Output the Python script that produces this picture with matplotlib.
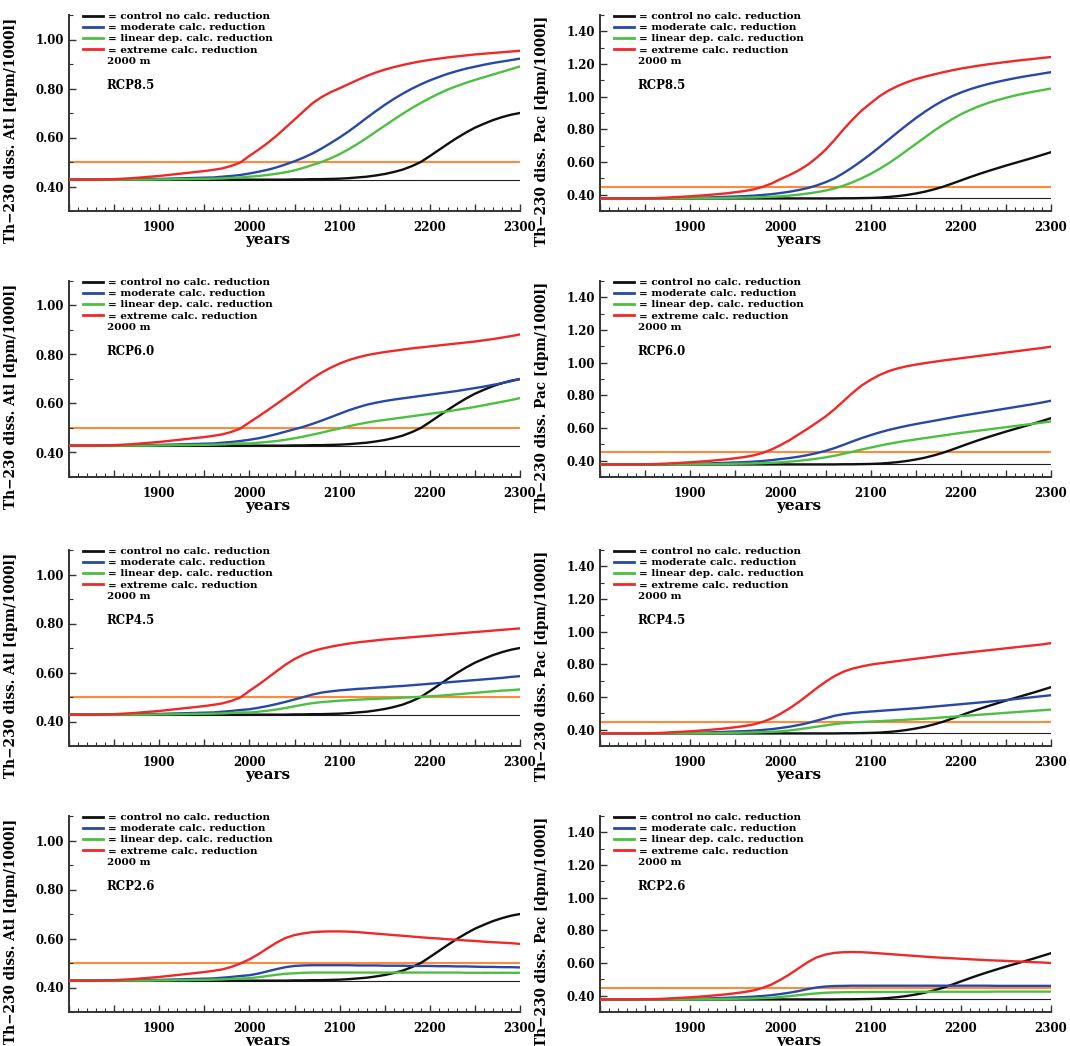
import matplotlib
matplotlib.use("Agg")
import matplotlib.pyplot as plt
from matplotlib.lines import Line2D
from matplotlib.ticker import MultipleLocator, FixedLocator, FuncFormatter

# ---------------- data ----------------
YEARS = list(range(1800, 2301, 10))

ATL_BASE = 0.428
ATL_THRESHOLD = 0.50
PAC_BASE = 0.377
PAC_THRESHOLD = 0.45

ATL_CONTROL = [0.428, 0.428, 0.428, 0.428, 0.428, 0.428, 0.428, 0.428, 0.428, 0.428,
               0.428, 0.428, 0.428, 0.428, 0.428, 0.428, 0.428, 0.428, 0.428, 0.428,
               0.428, 0.428, 0.428, 0.428, 0.428,
               0.429, 0.429, 0.430, 0.430, 0.431, 0.432, 0.434, 0.437, 0.440, 0.445,
               0.451, 0.459, 0.469, 0.483, 0.500, 0.524, 0.549, 0.574, 0.598, 0.620,
               0.640, 0.656, 0.671, 0.683, 0.693, 0.700]
PAC_CONTROL = [0.377, 0.377, 0.377, 0.377, 0.377, 0.377, 0.377, 0.377, 0.377, 0.377,
               0.377, 0.377, 0.377, 0.377, 0.377, 0.377, 0.377, 0.377, 0.377, 0.377,
               0.377, 0.377, 0.377, 0.377, 0.377, 0.377, 0.377,
               0.378, 0.378, 0.379, 0.380, 0.382, 0.386, 0.391, 0.398, 0.407, 0.418,
               0.432, 0.448, 0.467, 0.487, 0.507, 0.526, 0.544, 0.561, 0.578, 0.594,
               0.610, 0.626, 0.643, 0.660]

# 1800-1990 (shared by all scenarios)
ATL_RED_PRE = [0.428, 0.428, 0.428, 0.428, 0.429, 0.430, 0.432, 0.434, 0.437, 0.440,
               0.443, 0.447, 0.451, 0.455, 0.459, 0.463, 0.468, 0.474, 0.484, 0.498]
ATL_BLUE_PRE = [0.428, 0.428, 0.428, 0.428, 0.428, 0.429, 0.429, 0.430, 0.430, 0.431,
                0.431, 0.432, 0.433, 0.434, 0.435, 0.436, 0.437, 0.440, 0.443, 0.447]
ATL_GREEN_PRE = [0.428, 0.428, 0.428, 0.428, 0.428, 0.428, 0.428, 0.428, 0.428, 0.428,
                 0.429, 0.429, 0.430, 0.430, 0.431, 0.431, 0.432, 0.433, 0.435, 0.437]
PAC_RED_PRE = [0.377, 0.377, 0.377, 0.377, 0.377, 0.378, 0.379, 0.381, 0.384, 0.387,
               0.390, 0.394, 0.398, 0.403, 0.408, 0.415, 0.422, 0.432, 0.447, 0.468]
PAC_BLUE_PRE = [0.377, 0.377, 0.377, 0.377, 0.377, 0.377, 0.377, 0.378, 0.379, 0.380,
                0.381, 0.382, 0.383, 0.385, 0.387, 0.389, 0.391, 0.394, 0.398, 0.403]
PAC_GREEN_PRE = [0.377, 0.377, 0.377, 0.377, 0.377, 0.377, 0.377, 0.377, 0.377, 0.377,
                 0.378, 0.378, 0.379, 0.379, 0.380, 0.381, 0.382, 0.383, 0.385, 0.387]

# 2000-2300 per scenario
ATL85_RED = [0.525, 0.550, 0.577, 0.607, 0.640, 0.673, 0.707, 0.740, 0.765, 0.785,
             0.801, 0.818, 0.835, 0.851, 0.865, 0.877, 0.887, 0.896, 0.904, 0.911,
             0.917, 0.922, 0.927, 0.931, 0.935, 0.939, 0.942, 0.945, 0.948, 0.951, 0.954]
ATL85_BLUE = [0.453, 0.460, 0.468, 0.478, 0.490, 0.503, 0.518, 0.535, 0.555, 0.577,
              0.600, 0.625, 0.652, 0.680, 0.707, 0.733, 0.757, 0.779, 0.799, 0.817,
              0.833, 0.847, 0.860, 0.871, 0.881, 0.889, 0.897, 0.904, 0.910, 0.916, 0.922]
ATL85_GREEN = [0.440, 0.443, 0.447, 0.452, 0.458, 0.466, 0.476, 0.488, 0.500, 0.515,
               0.532, 0.552, 0.574, 0.598, 0.623, 0.648, 0.673, 0.697, 0.720, 0.741,
               0.761, 0.779, 0.796, 0.810, 0.823, 0.835, 0.846, 0.857, 0.868, 0.879, 0.890]

ATL60_RED = [0.523, 0.547, 0.572, 0.598, 0.624, 0.650, 0.677, 0.703, 0.726, 0.746,
             0.763, 0.777, 0.788, 0.797, 0.804, 0.810, 0.815, 0.820, 0.825, 0.829,
             0.833, 0.837, 0.841, 0.845, 0.849, 0.853, 0.858, 0.863, 0.869, 0.875, 0.882]
ATL60_BLUE = [0.452, 0.458, 0.466, 0.475, 0.485, 0.495, 0.505, 0.517, 0.530, 0.544,
              0.558, 0.572, 0.584, 0.595, 0.603, 0.610, 0.616, 0.621, 0.626, 0.631,
              0.636, 0.641, 0.646, 0.651, 0.657, 0.663, 0.669, 0.676, 0.683, 0.691, 0.700]
ATL60_GREEN = [0.437, 0.440, 0.443, 0.447, 0.452, 0.458, 0.465, 0.473, 0.481, 0.490,
               0.498, 0.507, 0.515, 0.522, 0.528, 0.533, 0.538, 0.543, 0.548, 0.553,
               0.558, 0.563, 0.568, 0.574, 0.580, 0.586, 0.593, 0.600, 0.607, 0.614, 0.622]

ATL45_RED = [0.525, 0.550, 0.577, 0.605, 0.632, 0.655, 0.673, 0.687, 0.697, 0.705,
             0.712, 0.718, 0.723, 0.727, 0.731, 0.735, 0.738, 0.741, 0.744, 0.747,
             0.750, 0.753, 0.756, 0.759, 0.762, 0.765, 0.768, 0.771, 0.774, 0.777, 0.780]
ATL45_BLUE = [0.450, 0.456, 0.463, 0.471, 0.480, 0.490, 0.500, 0.510, 0.518, 0.523,
              0.527, 0.530, 0.533, 0.535, 0.538, 0.540, 0.543, 0.545, 0.548, 0.551,
              0.554, 0.557, 0.560, 0.563, 0.566, 0.569, 0.572, 0.575, 0.578, 0.582, 0.585]
ATL45_GREEN = [0.437, 0.440, 0.444, 0.449, 0.455, 0.462, 0.469, 0.475, 0.479, 0.482,
               0.485, 0.487, 0.489, 0.491, 0.492, 0.494, 0.495, 0.497, 0.499, 0.501,
               0.503, 0.505, 0.508, 0.511, 0.514, 0.517, 0.520, 0.523, 0.526, 0.528, 0.531]

ATL26_RED = [0.515, 0.536, 0.560, 0.583, 0.602, 0.614, 0.621, 0.626, 0.628, 0.629,
             0.629, 0.628, 0.626, 0.623, 0.620, 0.617, 0.614, 0.611, 0.608, 0.605,
             0.602, 0.600, 0.597, 0.595, 0.592, 0.590, 0.587, 0.585, 0.583, 0.581, 0.578]
ATL26_BLUE = [0.450, 0.457, 0.466, 0.475, 0.483, 0.488, 0.490, 0.491, 0.491, 0.491,
              0.491, 0.491, 0.490, 0.490, 0.490, 0.489, 0.489, 0.489, 0.488, 0.488,
              0.488, 0.487, 0.487, 0.486, 0.486, 0.485, 0.484, 0.484, 0.483, 0.483, 0.482]
ATL26_GREEN = [0.438, 0.442, 0.447, 0.452, 0.456, 0.458, 0.460, 0.461, 0.461, 0.461,
               0.461, 0.461, 0.461, 0.461, 0.461, 0.461, 0.461, 0.461, 0.461, 0.461,
               0.461, 0.461, 0.461, 0.461, 0.460, 0.460, 0.460, 0.460, 0.460, 0.460, 0.460]

PAC85_RED = [0.495, 0.520, 0.548, 0.582, 0.625, 0.675, 0.735, 0.800, 0.860, 0.915,
             0.960, 1.003, 1.038, 1.065, 1.088, 1.107, 1.122, 1.136, 1.149, 1.161,
             1.172, 1.181, 1.190, 1.198, 1.205, 1.212, 1.219, 1.225, 1.231, 1.237, 1.243]
PAC85_BLUE = [0.410, 0.418, 0.428, 0.440, 0.456, 0.476, 0.500, 0.532, 0.568, 0.607,
              0.648, 0.692, 0.737, 0.782, 0.826, 0.868, 0.907, 0.943, 0.975, 1.002,
              1.025, 1.045, 1.062, 1.077, 1.090, 1.102, 1.113, 1.123, 1.132, 1.141, 1.150]
PAC85_GREEN = [0.390, 0.394, 0.400, 0.407, 0.415, 0.425, 0.438, 0.455, 0.476, 0.500,
               0.527, 0.558, 0.592, 0.630, 0.670, 0.710, 0.750, 0.790, 0.827, 0.861,
               0.892, 0.918, 0.941, 0.961, 0.978, 0.993, 1.007, 1.019, 1.030, 1.040, 1.050]

PAC60_RED = [0.495, 0.525, 0.560, 0.595, 0.632, 0.670, 0.715, 0.765, 0.815, 0.860,
             0.895, 0.925, 0.948, 0.965, 0.978, 0.988, 0.997, 1.005, 1.013, 1.020,
             1.027, 1.034, 1.041, 1.048, 1.055, 1.062, 1.069, 1.076, 1.083, 1.090, 1.098]
PAC60_BLUE = [0.410, 0.416, 0.424, 0.434, 0.446, 0.460, 0.477, 0.497, 0.518, 0.538,
              0.556, 0.573, 0.588, 0.601, 0.613, 0.624, 0.634, 0.644, 0.654, 0.664,
              0.674, 0.683, 0.692, 0.701, 0.710, 0.719, 0.728, 0.737, 0.746, 0.756, 0.767]
PAC60_GREEN = [0.390, 0.394, 0.399, 0.405, 0.412, 0.420, 0.430, 0.442, 0.455, 0.468,
               0.480, 0.492, 0.503, 0.513, 0.522, 0.530, 0.538, 0.546, 0.554, 0.562,
               0.570, 0.577, 0.584, 0.591, 0.598, 0.605, 0.612, 0.619, 0.626, 0.633, 0.640]

PAC45_RED = [0.497, 0.530, 0.568, 0.610, 0.653, 0.693, 0.728, 0.755, 0.774, 0.787,
             0.798, 0.806, 0.813, 0.820, 0.827, 0.834, 0.841, 0.848, 0.855, 0.862,
             0.868, 0.874, 0.880, 0.886, 0.892, 0.898, 0.904, 0.910, 0.916, 0.922, 0.930]
PAC45_BLUE = [0.410, 0.418, 0.428, 0.440, 0.455, 0.470, 0.485, 0.495, 0.502, 0.507,
              0.511, 0.515, 0.519, 0.523, 0.527, 0.531, 0.536, 0.541, 0.546, 0.551,
              0.556, 0.561, 0.566, 0.571, 0.576, 0.581, 0.587, 0.593, 0.599, 0.605, 0.611]
PAC45_GREEN = [0.390, 0.395, 0.402, 0.410, 0.418, 0.426, 0.434, 0.440, 0.444, 0.447,
               0.450, 0.452, 0.455, 0.458, 0.461, 0.464, 0.467, 0.471, 0.475, 0.479,
               0.483, 0.487, 0.491, 0.495, 0.499, 0.503, 0.507, 0.511, 0.515, 0.519, 0.523]

PAC26_RED = [0.497, 0.530, 0.567, 0.604, 0.634, 0.652, 0.662, 0.666, 0.667, 0.666,
             0.663, 0.659, 0.655, 0.651, 0.647, 0.643, 0.639, 0.635, 0.632, 0.629,
             0.626, 0.623, 0.620, 0.617, 0.615, 0.613, 0.610, 0.608, 0.605, 0.603, 0.600]
PAC26_BLUE = [0.410, 0.418, 0.428, 0.440, 0.450, 0.456, 0.459, 0.460, 0.461, 0.461,
              0.461, 0.461, 0.461, 0.461, 0.461, 0.461, 0.461, 0.461, 0.461, 0.461,
              0.461, 0.461, 0.461, 0.461, 0.460, 0.460, 0.460, 0.460, 0.460, 0.460, 0.460]
PAC26_GREEN = [0.392, 0.397, 0.403, 0.409, 0.414, 0.418, 0.420, 0.421, 0.422, 0.422,
               0.423, 0.423, 0.423, 0.423, 0.423, 0.424, 0.424, 0.424, 0.424, 0.424,
               0.424, 0.424, 0.424, 0.424, 0.425, 0.425, 0.425, 0.425, 0.425, 0.425, 0.425]

SCENARIOS = ["RCP8.5", "RCP6.0", "RCP4.5", "RCP2.6"]
ATL_POST = {"RCP8.5": (ATL85_BLUE, ATL85_GREEN, ATL85_RED),
            "RCP6.0": (ATL60_BLUE, ATL60_GREEN, ATL60_RED),
            "RCP4.5": (ATL45_BLUE, ATL45_GREEN, ATL45_RED),
            "RCP2.6": (ATL26_BLUE, ATL26_GREEN, ATL26_RED)}
PAC_POST = {"RCP8.5": (PAC85_BLUE, PAC85_GREEN, PAC85_RED),
            "RCP6.0": (PAC60_BLUE, PAC60_GREEN, PAC60_RED),
            "RCP4.5": (PAC45_BLUE, PAC45_GREEN, PAC45_RED),
            "RCP2.6": (PAC26_BLUE, PAC26_GREEN, PAC26_RED)}

LABELS = ["= control no calc. reduction", "= moderate calc. reduction",
          "= linear dep. calc. reduction", "= extreme calc. reduction"]
COLORS = ["#101010", "#2848a8", "#4cc040", "#f02828"]
ORANGE = "#ff8a3c"

# ---------------- drawing ----------------
FONT = "DejaVu Serif"
plt.rcParams["font.family"] = FONT
plt.rcParams["font.weight"] = "bold"

fig = plt.figure(figsize=(10.70, 10.46), dpi=100)
W, H = 1070.0, 1046.0
col_left = [69, 600]
col_width = 451
row_top = [15, 281, 550, 816]
row_h = 196


def fmt_y(v, pos):
    return "%.2f" % v


def fmt_x(v, pos):
    v = int(round(v))
    if v % 100 == 0 and v != 1800:
        return str(v)
    return ""


for r, scen in enumerate(SCENARIOS):
    for c, basin in enumerate(["Atl", "Pac"]):
        x0 = col_left[c] / W
        y0 = 1 - (row_top[r] + row_h) / H
        ax = fig.add_axes([x0, y0, col_width / W, row_h / H])

        if basin == "Atl":
            base, thr, control = ATL_BASE, ATL_THRESHOLD, ATL_CONTROL
            pres = (ATL_BLUE_PRE, ATL_GREEN_PRE, ATL_RED_PRE)
            posts = ATL_POST[scen]
            ylim = (0.30, 1.10)
            ymaj = [0.4, 0.6, 0.8, 1.0]
        else:
            base, thr, control = PAC_BASE, PAC_THRESHOLD, PAC_CONTROL
            pres = (PAC_BLUE_PRE, PAC_GREEN_PRE, PAC_RED_PRE)
            posts = PAC_POST[scen]
            ylim = (0.30, 1.50)
            ymaj = [0.4, 0.6, 0.8, 1.0, 1.2, 1.4]

        ax.axhline(base, color="#202020", lw=0.8, zorder=1)
        ax.axhline(thr, color=ORANGE, lw=1.5, zorder=1)

        ax.plot(YEARS, control, color=COLORS[0], lw=1.7, zorder=3)
        for k in range(3):
            ax.plot(YEARS, pres[k] + posts[k], color=COLORS[k + 1], lw=1.7, zorder=3 + k)

        ax.set_xlim(1800, 2300)
        ax.set_ylim(*ylim)
        for s in ("top", "right"):
            ax.spines[s].set_visible(False)
        for s in ("left", "bottom"):
            ax.spines[s].set_linewidth(1.4)
            ax.spines[s].set_color("#333333")

        ax.xaxis.set_major_locator(MultipleLocator(50))
        ax.xaxis.set_minor_locator(MultipleLocator(10))
        ax.xaxis.set_major_formatter(FuncFormatter(fmt_x))
        ax.yaxis.set_major_locator(FixedLocator(ymaj))
        ax.yaxis.set_minor_locator(MultipleLocator(0.1))
        ax.yaxis.set_major_formatter(FuncFormatter(fmt_y))
        ax.tick_params(axis="both", which="major", direction="in", length=5, width=1.0,
                       labelsize=8.5, color="#333333")
        ax.tick_params(axis="both", which="minor", direction="in", length=3, width=0.8,
                       color="#333333")
        ax.tick_params(axis="x", which="major", pad=7)
        for lab in ax.get_xticklabels() + ax.get_yticklabels():
            lab.set_fontweight("bold")

        ax.set_ylabel("Th\u2212230 diss. %s [dpm/1000l]" % basin, fontsize=9.8,
                      fontweight="bold")
        ax.yaxis.set_label_coords(-0.112, 0.41)
        ax.set_xlabel("years", fontsize=11, fontweight="bold")
        ax.xaxis.set_label_coords(0.44, -0.11)

        handles = [Line2D([], [], color=col, lw=2.0) for col in COLORS]
        ax.legend(handles, LABELS, loc="upper left", bbox_to_anchor=(0.03, 1.015),
                  frameon=False, handlelength=2.0, handletextpad=0.4,
                  labelspacing=0.17, borderpad=0.0, borderaxespad=0.0,
                  prop={"family": FONT, "weight": "bold", "size": 7.5})
        ax.text(0.084, 0.765, "2000 m", transform=ax.transAxes, fontsize=7.5,
                fontweight="bold", va="center", ha="left")
        ax.text(0.084, 0.64, scen, transform=ax.transAxes, fontsize=8.5,
                fontweight="bold", va="center", ha="left")

fig.savefig("out.png", dpi=100, facecolor="white")
